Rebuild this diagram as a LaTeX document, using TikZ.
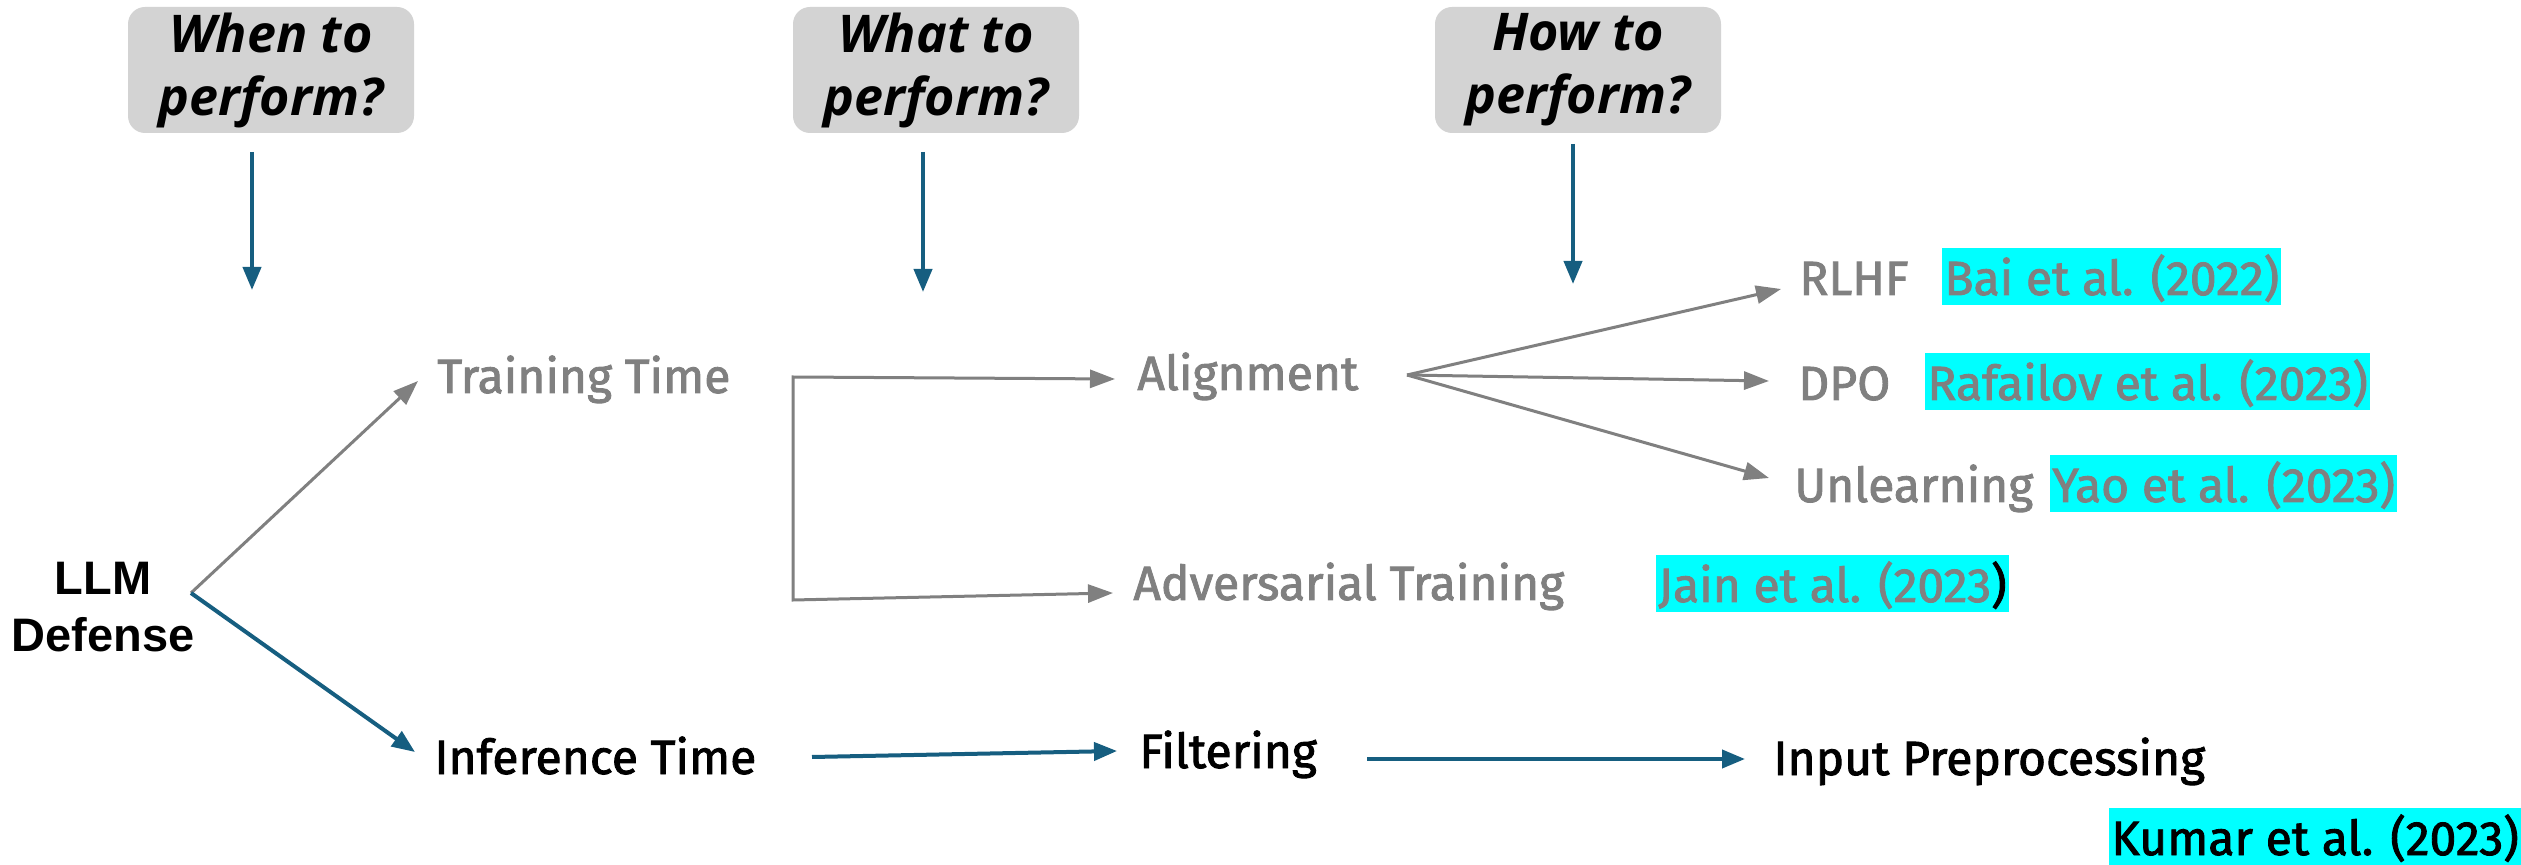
\documentclass[tikz,border=0pt]{standalone}
\usepackage{fontspec}
\setmainfont{Fira Sans}[FakeBold=1.8]
\newfontfamily\qfont{Open Sans}
\newfontfamily\rootfont{Liberation Sans}
\usetikzlibrary{arrows.meta}
\definecolor{linkblue}{RGB}{22,94,128}
\definecolor{softgray}{RGB}{128,128,128}
\definecolor{boxgray}{RGB}{211,211,211}
\definecolor{hl}{RGB}{0,255,255}
\tikzset{
  btip/.tip={Triangle[length=11.5pt,width=9pt]},
  gtip/.tip={Triangle[length=12.5pt,width=9pt]},
}

\begin{document}
\begin{tikzpicture}[x=0.5pt,y=-0.5pt,
  lbl/.style={inner sep=0pt, anchor=base west, font=\fontsize{24}{29}\selectfont},
  graylbl/.style={lbl, text=softgray},
  blacklbl/.style={lbl, text=black},
  cite/.style={lbl, fill=hl, inner xsep=1pt, text height=23.5pt, text depth=5pt},
  question/.style={fill=boxgray, rounded corners=8.5pt, minimum width=143pt,
    minimum height=63pt, align=center, inner sep=0pt,
    font=\qfont\bfseries\itshape\fontsize{26}{31.5}\selectfont},
  barrow/.style={draw=linkblue, line width=2pt, -btip},
  garrow/.style={draw=softgray, line width=1.5pt, -gtip},
]
\useasboundingbox (0,0) rectangle (2521,865);

% guiding questions
\node[question] (q1) at (271,70) {When to\\perform?};
\node[question] (q2) at (936,70) {What to\\perform?};
\node[question] (q3) at (1578,70) {How to\\perform?};

\coordinate (q1a) at (252,152);  \coordinate (q1b) at (252,290);
\coordinate (q2a) at (923,152);  \coordinate (q2b) at (923,292);
\coordinate (q3a) at (1573,144); \coordinate (q3b) at (1573,284);
\draw[barrow] (q1a) -- (q1b);
\draw[barrow] (q2a) -- (q2b);
\draw[barrow] (q3a) -- (q3b);

% root
\node[inner sep=0pt, anchor=north, align=center,
  font=\rootfont\bfseries\fontsize{23.5}{28.5}\selectfont] (root) at (103,562) {LLM\\Defense};
\coordinate (fork) at (191,593);

% when
\node[graylbl] (train) at (437,393) {Training Time};
\node[blacklbl] (infer) at (434,774) {Inference Time};
\coordinate (trainTip) at (418,381);
\coordinate (inferTip) at (415,752);
\draw[garrow] (fork) -- (trainTip);
\draw[barrow] (fork) -- (inferTip);

% what
\node[graylbl] (align) at (1137,390) {Alignment};
\node[graylbl] (adv) at (1133,600) {Adversarial Training};
\node[blacklbl] (filt) at (1139,768) {Filtering};

\coordinate (brTop) at (793,377);
\coordinate (brBot) at (793,600);
\coordinate (alignTip) at (1115,379);
\coordinate (advTip) at (1113,593);
\draw[draw=softgray, line width=1.5pt, gtip-gtip] (alignTip) -- (brTop) -- (brBot) -- (advTip);

\coordinate (inferOut) at (812,757);
\coordinate (filtTip) at (1117,751);
\draw[barrow] (inferOut) -- (filtTip);

% how
\node[graylbl] (rlhf) at (1799,295) {RLHF};
\node[graylbl] (dpo) at (1798,400) {DPO};
\node[graylbl] (unl) at (1794,502) {Unlearning};
\node[blacklbl] (inp) at (1773,775) {Input Preprocessing};

\coordinate (fan) at (1407,375);
\coordinate (rlhfTip) at (1781,289);
\coordinate (dpoTip) at (1769,381);
\coordinate (unlTip) at (1769,478);
\draw[garrow] (fan) -- (rlhfTip);
\draw[garrow] (fan) -- (dpoTip);
\draw[garrow] (fan) -- (unlTip);

\coordinate (filtOut) at (1367,759);
\coordinate (inpTip) at (1745,759);
\draw[barrow] (filtOut) -- (inpTip);

% references
\node[cite, text=softgray] (bai) at (1942,295) {Bai et al. (2022)};
\node[cite, text=softgray] (rafa) at (1925,400) {Rafailov et al. (2023)};
\node[cite, text=softgray] (yao) at (2050,502) {Yao et al. (2023)};
\node[cite, text=softgray] (jain) at (1656,602) {Jain et al. (2023\textcolor{black}{)}};
\node[cite, text=black] (kumar) at (2109,855) {Kumar et al. (2023)};
\end{tikzpicture}
\end{document}
